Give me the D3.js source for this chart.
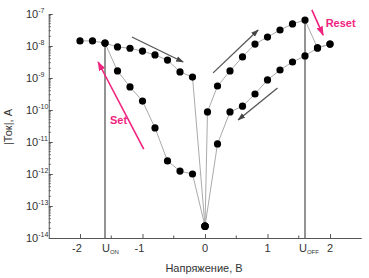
<!DOCTYPE html>
<html>
<head>
<meta charset="utf-8">
<script src="https://cdn.jsdelivr.net/npm/d3@7"></script>
<style>
  body { margin: 0; background: #fff; }
  text { font-family: "Liberation Sans", Arial, sans-serif; fill: #333; }
</style>
</head>
<body>
<svg id="chart" width="369" height="278"></svg>
<script>
// voltage sweep points (V) and log10 of |current| (A)
var negUpperV = [-2, -1.8, -1.6, -1.4, -1.2, -1.0, -0.8, -0.6, -0.4, -0.2, 0];
var negUpperLog = [-7.84, -7.84, -7.91, -8.03, -8.07, -8.16, -8.28, -8.44, -8.81, -8.97, -13.63];

var negLowerV = [-1.6, -1.4, -1.2, -1.0, -0.8, -0.6, -0.4, -0.2, 0];
var negLowerLog = [-7.91, -8.78, -9.28, -9.72, -10.56, -11.59, -11.91, -12.0, -13.63];

var posUpV = [0, 0.04, 0.2, 0.4, 0.6, 0.8, 1.0, 1.2, 1.4, 1.6, 1.8, 2.0];
var posUpLog = [-13.63, -10.06, -9.25, -8.78, -8.34, -7.94, -7.72, -7.5, -7.31, -7.19, -8.06, -7.94];

var posDownV = [2.0, 1.8, 1.6, 1.4, 1.2, 1.0, 0.8, 0.6, 0.4, 0.2, 0];
var posDownLog = [-7.94, -8.06, -8.31, -8.5, -8.75, -9.06, -9.5, -9.88, -10.06, -11.06, -13.63];

// switching voltages
var uOn = -1.6, uOnLog = -7.91;
var uOff = 1.6, uOffLog = -7.19;

// axis ticks
var xTicks = [-2, -1, 0, 1, 2];
var xMinorTicks = [-1.5, -0.5, 0.5, 1.5];
var yExponents = [-14, -13, -12, -11, -10, -9, -8, -7];

// sweep direction arrows, [v1, log1, v2, log2]
var grayArrows = [
  [-1.17, -7.72, -0.35, -8.5],
  [0.13, -8.84, 0.85, -7.5],
  [1.16, -9.31, 0.53, -10.31]
];
var setArrow = [-0.98, -11.22, -1.71, -8.5];
var resetArrow = [1.71, -6.87, 1.89, -7.66];

var svg = d3.select("#chart");

var x = d3.scaleLinear().domain([-2.5, 2.5]).range([48.75, 361.25]);
var y = d3.scaleLog().domain([1e-14, 1e-7]).range([238, 14]);

var defs = svg.append("defs");
function addMarker(id, color) {
  defs.append("marker")
    .attr("id", id)
    .attr("viewBox", "0 0 10 10")
    .attr("refX", 9).attr("refY", 5)
    .attr("markerWidth", 6).attr("markerHeight", 6)
    .attr("orient", "auto")
    .append("path")
    .attr("d", "M0,1.5 L10,5 L0,8.5 Z")
    .attr("fill", color);
}
addMarker("headGray", "#444");
addMarker("headPink", "#f0237f");

// axes
var xAxis = d3.axisBottom(x).tickValues(xTicks).tickSizeInner(-4).tickSizeOuter(0).tickFormat("");
var gx = svg.append("g").attr("transform", "translate(0,238)").call(xAxis);
gx.selectAll("line").attr("stroke", "#555");
gx.select(".domain").attr("stroke", "#555");
gx.selectAll(".minor").data(xMinorTicks).enter().append("line")
  .attr("x1", function (d) { return x(d); }).attr("x2", function (d) { return x(d); })
  .attr("y1", 0).attr("y2", -2.5).attr("stroke", "#555");

var yMajor = yExponents.map(function (e) { return Math.pow(10, e); });
var yAxis = d3.axisLeft(y).tickValues(yMajor).tickSizeInner(-4).tickSizeOuter(0).tickFormat("");
var gy = svg.append("g").attr("transform", "translate(48.75,0)").call(yAxis);
gy.selectAll("line").attr("stroke", "#555");
gy.select(".domain").attr("stroke", "#555");

var yMinor = [];
yExponents.slice(0, -1).forEach(function (e) {
  for (var k = 2; k <= 9; k++) yMinor.push(k * Math.pow(10, e));
});
gy.selectAll(".minor").data(yMinor).enter().append("line")
  .attr("x1", 0).attr("x2", 2.2)
  .attr("y1", function (d) { return y(d); }).attr("y2", function (d) { return y(d); })
  .attr("stroke", "#555").attr("stroke-width", 0.8);

// y tick labels 10^n
var yl = svg.selectAll(".ylab").data(yExponents).enter().append("text")
  .attr("x", 26).attr("y", function (d) { return y(Math.pow(10, d)) + 4; })
  .attr("font-size", 11);
yl.append("tspan").text("10");
yl.append("tspan").attr("dy", -5).attr("font-size", 7).text(function (d) { return "-" + Math.abs(d); });

// x tick labels
svg.selectAll(".xlab").data(xTicks).enter().append("text")
  .attr("x", function (d) { return x(d) - (d < 0 ? 3 : 0); })
  .attr("y", 252).attr("text-anchor", "middle").attr("font-size", 11)
  .text(function (d) { return d < 0 ? "-" + Math.abs(d) : d; });

function uLabel(v, sub, dx) {
  var t = svg.append("text").attr("x", x(v) + dx).attr("y", 252).attr("font-size", 11);
  t.append("tspan").text("U");
  t.append("tspan").attr("dy", 2).attr("font-size", 6).text(sub);
}
uLabel(uOn, "ON", -3);
uLabel(uOff, "OFF", -6);

// axis titles
svg.append("text").attr("x", 204).attr("y", 272).attr("text-anchor", "middle")
  .attr("font-size", 11).text("Напряжение, В");
svg.append("text").attr("transform", "translate(12,127) rotate(-90)")
  .attr("text-anchor", "middle").attr("font-size", 11).text("|Ток|, А");

// U_ON / U_OFF vertical lines
[[uOn, uOnLog], [uOff, uOffLog]].forEach(function (u) {
  svg.append("line")
    .attr("x1", x(u[0])).attr("x2", x(u[0]))
    .attr("y1", y(1e-14)).attr("y2", y(Math.pow(10, u[1])))
    .attr("stroke", "#666").attr("stroke-width", 1.4);
});

// curves
var series = [
  [negUpperV, negUpperLog],
  [negLowerV, negLowerLog],
  [posUpV, posUpLog],
  [posDownV, posDownLog]
];
var line = d3.line()
  .x(function (d) { return x(d[0]); })
  .y(function (d) { return y(Math.pow(10, d[1])); });

series.forEach(function (s) {
  var pts = s[0].map(function (v, i) { return [v, s[1][i]]; });
  svg.append("path").datum(pts).attr("d", line)
    .attr("fill", "none").attr("stroke", "#aaa").attr("stroke-width", 1);
});
series.forEach(function (s) {
  var pts = s[0].map(function (v, i) { return [v, s[1][i]]; });
  svg.append("g").selectAll("circle").data(pts).enter().append("circle")
    .attr("cx", function (d) { return x(d[0]); })
    .attr("cy", function (d) { return y(Math.pow(10, d[1])); })
    .attr("r", 3.6).attr("fill", "#000");
});

// arrows
function arrow(a, color, width, marker) {
  svg.append("line")
    .attr("x1", x(a[0])).attr("y1", y(Math.pow(10, a[1])))
    .attr("x2", x(a[2])).attr("y2", y(Math.pow(10, a[3])))
    .attr("stroke", color).attr("stroke-width", width)
    .attr("marker-end", "url(#" + marker + ")");
}
grayArrows.forEach(function (a) { arrow(a, "#555", 1.3, "headGray"); });
arrow(setArrow, "#f0237f", 1.6, "headPink");
arrow(resetArrow, "#f0237f", 1.6, "headPink");

svg.append("text").attr("x", x(-1.52)).attr("y", y(Math.pow(10, -10.31)) + 4)
  .attr("font-size", 11).attr("font-weight", "bold").style("fill", "#f0237f").text("Set");
svg.append("text").attr("x", x(1.93)).attr("y", y(Math.pow(10, -7.28)) + 4)
  .attr("font-size", 11).attr("font-weight", "bold").style("fill", "#f0237f").text("Reset");
</script>
</body>
</html>
